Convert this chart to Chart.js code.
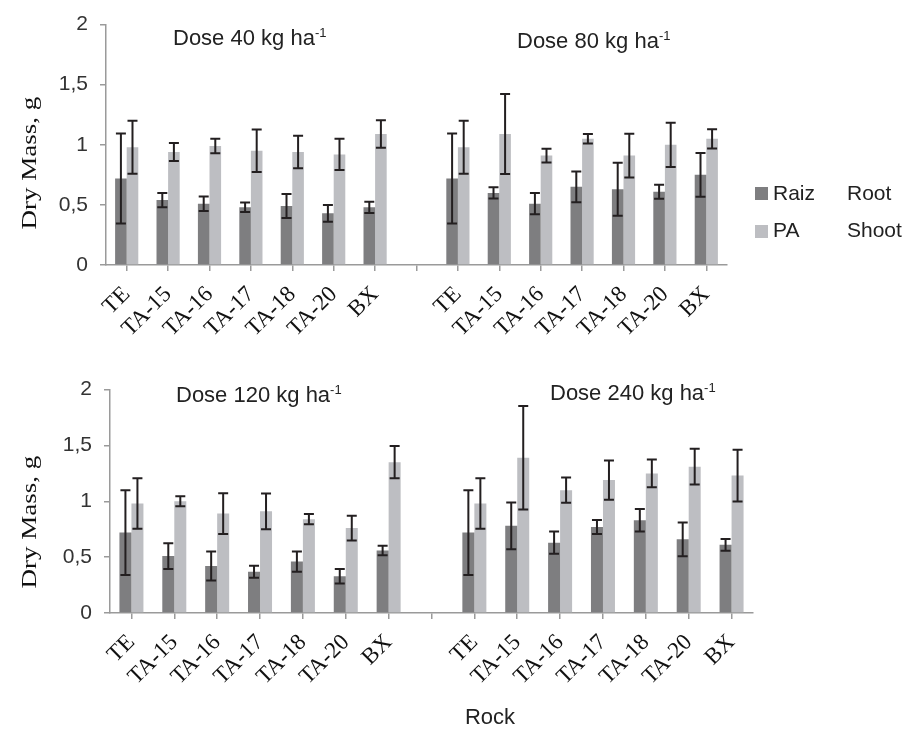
<!DOCTYPE html>
<html>
<head>
<meta charset="utf-8">
<script src="https://cdn.jsdelivr.net/npm/chart.js@4.4.0/dist/chart.umd.min.js"></script>
<style>
  body { margin: 0; background: #fff; }
  #wrap { position: relative; width: 906px; height: 730px; overflow: hidden; font-family: "Liberation Sans", Arial, sans-serif; }
  canvas { position: absolute; left: 0; }
  #topChart { top: 0; }
  #bottomChart { top: 365px; }
  .txt { position: absolute; white-space: nowrap; line-height: 1; color: #222; }
  .dose { font-size: 22px; }
  .dose sup { font-size: 13px; line-height: 0; vertical-align: 8px; }
  .leg { font-size: 21px; }
  .sw { position: absolute; width: 13px; height: 13px; }
  .ytitle { font-family: "Liberation Serif", "Times New Roman", serif; font-size: 20px; color: #111;
            transform: translate(-50%, -50%) rotate(-90deg) scaleX(1.35); }
  .xtitle { font-size: 22px; transform: translate(-50%, -50%); }
</style>
</head>
<body>
<div id="wrap">
  <canvas id="topChart" width="906" height="365"></canvas>
  <canvas id="bottomChart" width="906" height="365"></canvas>

  <div class="txt dose" style="left:173px; top:27px;">Dose 40 kg ha<sup>-1</sup></div>
  <div class="txt dose" style="left:517px; top:30px;">Dose 80 kg ha<sup>-1</sup></div>
  <div class="txt dose" style="left:176px; top:384px;">Dose 120 kg ha<sup>-1</sup></div>
  <div class="txt dose" style="left:550px; top:382px;">Dose 240 kg ha<sup>-1</sup></div>

  <div class="txt ytitle" style="left:29px; top:163px;">Dry Mass, g</div>
  <div class="txt ytitle" style="left:29px; top:522px;">Dry Mass, g</div>
  <div class="txt xtitle" style="left:490px; top:717px;">Rock</div>

  <div class="sw" style="left:755px; top:187px; background:#7e7e80;"></div>
  <div class="txt leg" style="left:773px; top:182px;">Raiz</div>
  <div class="txt leg" style="left:847px; top:182px;">Root</div>
  <div class="sw" style="left:755px; top:225px; background:#bdbec2;"></div>
  <div class="txt leg" style="left:773px; top:219px;">PA</div>
  <div class="txt leg" style="left:847px; top:219px;">Shoot</div>
</div>

<script>
// rock types on the x axis (each panel shows them twice, for two doses)
const rocks = ['TE', 'TA-15', 'TA-16', 'TA-17', 'TA-18', 'TA-20', 'BX'];
const yTickLabels = ['0', '0,5', '1', '1,5', '2'];

// Dose 40
const raiz40 = [0.72, 0.54, 0.51, 0.48, 0.49, 0.43, 0.48];
const raiz40Err = [0.375, 0.06, 0.06, 0.04, 0.10, 0.07, 0.047];
const pa40 = [0.98, 0.94, 0.99, 0.95, 0.94, 0.92, 1.09];
const pa40Err = [0.22, 0.075, 0.06, 0.177, 0.136, 0.13, 0.115];

// Dose 80
const raiz80 = [0.72, 0.60, 0.51, 0.65, 0.63, 0.61, 0.75];
const raiz80Err = [0.375, 0.047, 0.088, 0.127, 0.22, 0.058, 0.182];
const pa80 = [0.98, 1.09, 0.91, 1.05, 0.91, 1.00, 1.05];
const pa80Err = [0.22, 0.332, 0.057, 0.04, 0.182, 0.184, 0.08];

// Dose 120
const raiz120 = [0.72, 0.51, 0.42, 0.37, 0.46, 0.33, 0.56];
const raiz120Err = [0.38, 0.115, 0.13, 0.054, 0.09, 0.065, 0.043];
const pa120 = [0.98, 1.00, 0.89, 0.91, 0.84, 0.76, 1.35];
const pa120Err = [0.226, 0.045, 0.183, 0.16, 0.046, 0.11, 0.144];

// Dose 240
const raiz240 = [0.72, 0.78, 0.63, 0.77, 0.83, 0.66, 0.61];
const raiz240Err = [0.38, 0.21, 0.10, 0.063, 0.10, 0.151, 0.053];
const pa240 = [0.98, 1.39, 1.10, 1.19, 1.25, 1.31, 1.23];
const pa240Err = [0.226, 0.463, 0.113, 0.176, 0.124, 0.16, 0.231];

const axisGray = '#9a9a9a';

// draws mean +/- error whiskers on every bar
const errorBars = {
    id: 'errorBars',
    afterDatasetsDraw(chart) {
        const ctx = chart.ctx;
        const y = chart.scales.y;
        ctx.save();
        ctx.strokeStyle = '#231f20';
        ctx.lineWidth = 2;
        chart.data.datasets.forEach((ds, d) => {
            const meta = chart.getDatasetMeta(d);
            ds.data.forEach((v, i) => {
                if (v == null) return;
                const e = ds.errors[i];
                const x = meta.data[i].x;
                const yt = y.getPixelForValue(v + e);
                const yb = y.getPixelForValue(v - e);
                ctx.beginPath();
                ctx.moveTo(x, yt); ctx.lineTo(x, yb);
                ctx.moveTo(x - 5, yt); ctx.lineTo(x + 5, yt);
                ctx.moveTo(x - 5, yb); ctx.lineTo(x + 5, yb);
                ctx.stroke();
            });
        });
        ctx.restore();
    }
};

function makePanel(id, left, right, geo) {
    const labels = rocks.concat([''], rocks);
    return new Chart(document.getElementById(id), {
        type: 'bar',
        data: {
            labels: labels,
            datasets: [{
                label: 'Raiz',
                data: left.raiz.concat([null], right.raiz),
                errors: left.raizErr.concat([0], right.raizErr),
                backgroundColor: '#7e7e80'
            }, {
                label: 'PA',
                data: left.pa.concat([null], right.pa),
                errors: left.paErr.concat([0], right.paErr),
                backgroundColor: '#bdbec2'
            }]
        },
        options: {
            responsive: false,
            animation: false,
            categoryPercentage: 0.56,
            barPercentage: 1.0,
            layout: { padding: { top: geo.top, right: geo.right, left: 0, bottom: 0 } },
            plugins: { legend: { display: false }, tooltip: { enabled: false } },
            scales: {
                x: {
                    grid: { offset: false, drawOnChartArea: false, tickLength: 6, color: axisGray, lineWidth: 1.5 },
                    border: { color: axisGray, width: 1.5 },
                    ticks: {
                        autoSkip: false, minRotation: 45, maxRotation: 45, padding: 10, color: '#111',
                        font: { family: '"Liberation Serif", "Times New Roman", serif', size: 23 }
                    },
                    afterFit: s => { s.height = geo.xh; }
                },
                y: {
                    min: 0, max: 2,
                    grid: { drawOnChartArea: false, tickLength: 6, color: axisGray, lineWidth: 1.5 },
                    border: { color: axisGray, width: 1.5 },
                    ticks: {
                        stepSize: 0.5, padding: 12, color: '#333',
                        font: { family: '"Liberation Sans", Arial, sans-serif', size: 21 },
                        callback: v => yTickLabels[Math.round(v / 0.5)]
                    },
                    afterFit: s => { s.width = geo.yw; }
                }
            }
        },
        plugins: [errorBars]
    });
}

makePanel('topChart',
    { raiz: raiz40, raizErr: raiz40Err, pa: pa40, paErr: pa40Err },
    { raiz: raiz80, raizErr: raiz80Err, pa: pa80, paErr: pa80Err },
    { top: 20, right: 179, xh: 100, yw: 106 });

makePanel('bottomChart',
    { raiz: raiz120, raizErr: raiz120Err, pa: pa120, paErr: pa120Err },
    { raiz: raiz240, raizErr: raiz240Err, pa: pa240, paErr: pa240Err },
    { top: 13.5, right: 153, xh: 117, yw: 110 });
</script>
</body>
</html>
